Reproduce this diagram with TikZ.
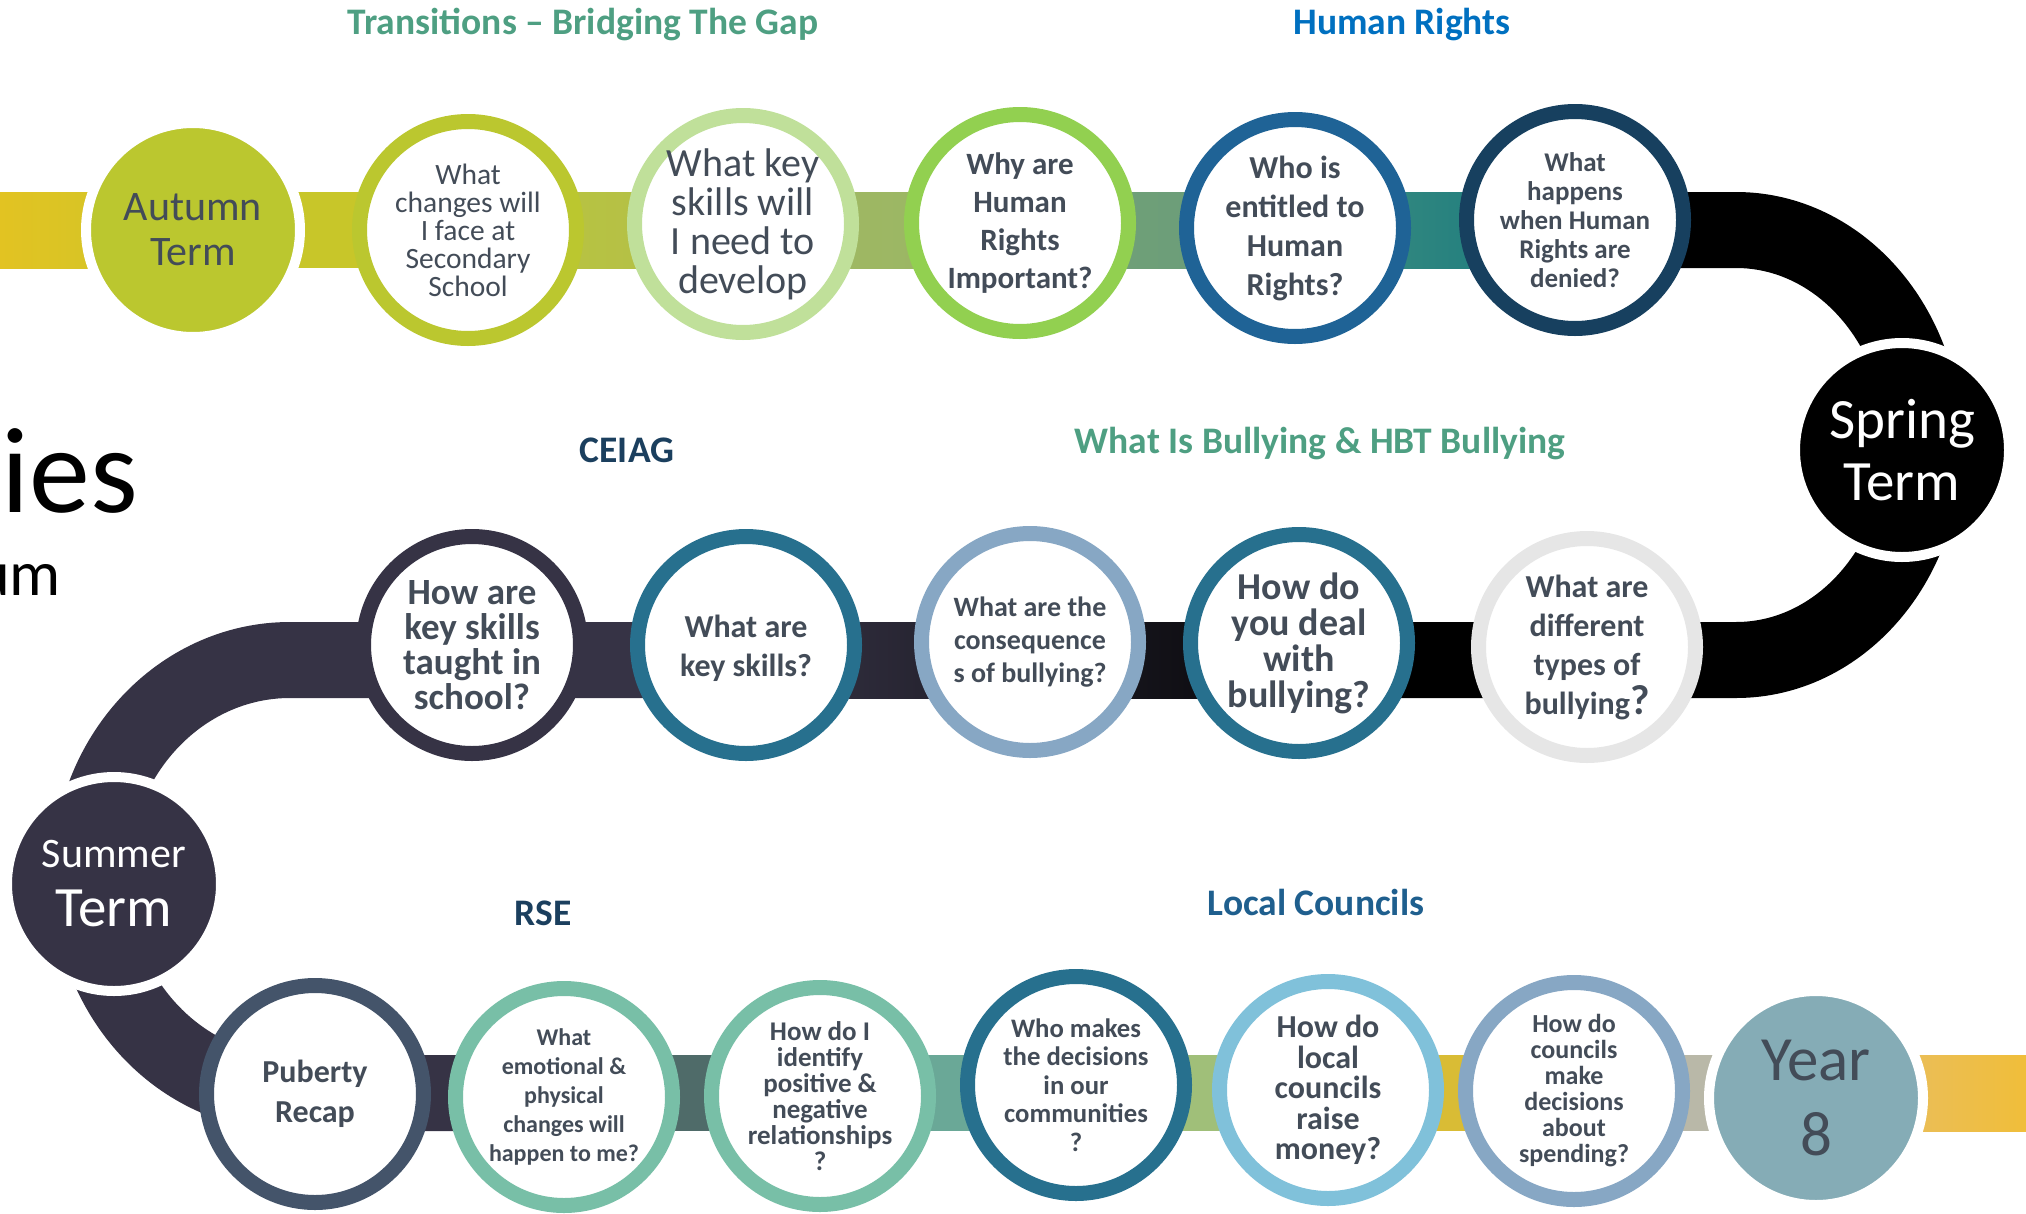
\documentclass[tikz,border=0pt]{standalone}
\usepackage{fontspec}
\setmainfont{Carlito}
\usetikzlibrary{backgrounds}
\definecolor{txt}{HTML}{434C58}
\definecolor{autumn}{HTML}{BBC72F}
\definecolor{ringB}{HTML}{C0E09A}
\definecolor{ringC}{HTML}{92D050}
\definecolor{ringD}{HTML}{1F6396}
\definecolor{ringE}{HTML}{17405F}
\definecolor{slate}{HTML}{363345}
\definecolor{petrol}{HTML}{27708E}
\definecolor{steel}{HTML}{87A7C4}
\definecolor{mist}{HTML}{E6E6E6}
\definecolor{puberty}{HTML}{44546A}
\definecolor{mint}{HTML}{78BFA7}
\definecolor{sky}{HTML}{80C1DA}
\definecolor{yearc}{HTML}{85ACB6}
\definecolor{hgreen}{HTML}{4E9F82}
\definecolor{hblue}{HTML}{0070C0}
\definecolor{hnavy}{HTML}{1B3F5E}
\definecolor{hcouncil}{HTML}{1F5F8E}
\definecolor{bandA}{HTML}{E2C322}
\definecolor{bandB}{HTML}{CCC62A}
\definecolor{bandC}{HTML}{C8C629}
\definecolor{bandD}{HTML}{BAC33D}
\definecolor{bandE}{HTML}{B2C04B}
\definecolor{bandF}{HTML}{A3BA5F}
\definecolor{bandG}{HTML}{97B468}
\definecolor{bandH}{HTML}{74A278}
\definecolor{bandI}{HTML}{679B79}
\definecolor{bandJ}{HTML}{3F8F7E}
\definecolor{bandK}{HTML}{167880}
\definecolor{lowA}{HTML}{4F6B69}
\definecolor{lowB}{HTML}{6AA897}
\definecolor{lowC}{HTML}{A0BF79}
\definecolor{lowD}{HTML}{D9BC35}
\definecolor{lowE}{HTML}{B9B8A8}
\definecolor{goldA}{HTML}{E6BF70}
\definecolor{goldB}{HTML}{F0BE3A}
\begin{document}
\begin{tikzpicture}[x=1pt,y=-1pt,
    ring/.style={circle,draw=#1,line width=15pt,fill=white,minimum size=217pt,inner sep=0pt},
    term/.style={circle,fill=#1,draw=white,line width=10pt,minimum size=214pt,inner sep=0pt,align=center},
    qtext/.style 2 args={align=center,text=txt,inner sep=0pt,font=\fontsize{#1}{#2}\selectfont},
    qbold/.style 2 args={align=center,text=txt,inner sep=0pt,font=\bfseries\fontsize{#1}{#2}\selectfont},
    head/.style={text=#1,inner sep=0pt,anchor=base,font=\bfseries\fontsize{37.5}{40}\selectfont}]
    \useasboundingbox (0,0) rectangle (2026,1213);
    \clip (0,0) rectangle (2026,1213);
    \coordinate (w) at (0,0);
    \coordinate (e) at (2026,0);
    \coordinate (r1) at (0,230);
    \coordinate (r1t) at (0,192);
    \coordinate (r1b) at (0,268);
    \coordinate (r2) at (0,660);
    \coordinate (r2t) at (0,622);
    \coordinate (r2b) at (0,698);
    \coordinate (r3) at (0,1093);
    \coordinate (r3t) at (0,1055);
    \coordinate (r3b) at (0,1131);
    \coordinate (rturn) at (1736,230);
    \coordinate (lturn) at (290,660);

    \node[anchor=base east,inner sep=0pt,font=\fontsize{122}{122}\selectfont] (ies) at (138,512) {ies};
    \node[anchor=base east,inner sep=0pt,font=\fontsize{64}{64}\selectfont] (um) at (61,595) {um};

    \node[head=hgreen] (h1) at (583,34) {Transitions – Bridging The Gap};
    \node[head=hblue] (h2) at (1402,34) {Human Rights};
    \node[head=hnavy] (h3) at (627,462) {CEIAG};
    \node[head=hgreen] (h4) at (1320,453) {What Is Bullying \& HBT Bullying};
    \node[head=hnavy] (h5) at (543,925) {RSE};
    \node[head=hcouncil] (h6) at (1316,915) {Local Councils};

    \node[term=autumn,text=txt,font=\fontsize{42}{45}\selectfont] (aut) at (193,230) {Autumn\\Term};
    \node[ring=autumn] (t1) at (468,230) {};
    \node[ring=ringB] (t2) at (743,224) {};
    \node[ring=ringC] (t3) at (1020,223) {};
    \node[ring=ringD] (t4) at (1295,228) {};
    \node[ring=ringE] (t5) at (1575,220) {};
    \node[term=black,text=white,font=\fontsize{57}{62}\selectfont] (spr) at (1902,450) {Spring\\Term};

    \node[ring=mist] (m5) at (1587,647) {};
    \node[ring=petrol] (m4) at (1299,643) {};
    \node[ring=steel] (m3) at (1030,642) {};
    \node[ring=petrol] (m2) at (746,645) {};
    \node[ring=slate] (m1) at (472,645) {};
    \node[term=slate,text=white,font=\fontsize{57}{59}\selectfont] (sum) at (114,884) {{\fontsize{42}{48}\selectfont Summer}\\Term};

    \node[ring=puberty] (b1) at (315,1094) {};
    \node[ring=mint] (b2) at (564,1097) {};
    \node[ring=mint] (b3) at (820,1096) {};
    \node[ring=petrol] (b4) at (1076,1085) {};
    \node[ring=sky] (b5) at (1328,1090) {};
    \node[ring=steel] (b6) at (1574,1091) {};
    \node[term=yearc,text=txt,font=\fontsize{63}{75}\selectfont] (yr) at (1816,1098) {Year\\8};

    \node[qtext={29.5}{28}] (t1q) at (t1) {What\\changes will\\I face at\\Secondary\\School};
    \node[qtext={40}{39}] (t2q) at (t2) {What key\\skills will\\I need to\\develop};
    \node[qbold={31}{38}] (t3q) at (t3) {Why are\\Human\\Rights\\Important?};
    \node[qbold={32}{39}] (t4q) at (t4) {Who is\\entitled to\\Human\\Rights?};
    \node[qbold={27}{29}] (t5q) at (t5) {What\\happens\\when Human\\Rights are\\denied?};

    \node[qbold={32}{39}] (m5q) at (m5) {What are\\different\\types of\\bullying{\fontsize{42}{42}\selectfont ?}};
    \node[qbold={38}{36}] (m4q) at (m4) {How do\\you deal\\with\\bullying?};
    \node[qbold={28}{33}] (m3q) at (m3) {What are the\\consequence\\s of bullying?};
    \node[qbold={32}{39}] (m2q) at ([yshift=-3pt]m2.center) {What are\\key skills?};
    \node[qbold={37}{35}] (m1q) at (m1) {How are\\key skills\\taught in\\school?};

    \node[qbold={32}{40}] (b1q) at (b1) {Puberty\\Recap};
    \node[qbold={24}{29}] (b2q) at (b2) {What\\emotional \&\\physical\\changes will\\happen to me?};
    \node[qbold={27}{26}] (b3q) at (b3) {How do I\\identify\\positive \&\\negative\\relationships\\?};
    \node[qbold={26.7}{28.5}] (b4q) at (b4) {Who makes\\the decisions\\in our\\communities\\?};
    \node[qbold={32}{30.5}] (b5q) at (b5) {How do\\local\\councils\\raise\\money?};
    \node[qbold={26}{26}] (b6q) at (b6) {How do\\councils\\make\\decisions\\about\\spending?};

    \begin{scope}[on background layer]
        \shade[left color=bandA,right color=bandB] (w |- r1t) rectangle (aut |- r1b);
        \fill[bandC] (aut |- r1t) rectangle (t1 |- r1b);
        \shade[left color=bandD,right color=bandE] (t1 |- r1t) rectangle (t2 |- r1b);
        \shade[left color=bandF,right color=bandG] (t2 |- r1t) rectangle (t3 |- r1b);
        \shade[left color=bandH,right color=bandI] (t3 |- r1t) rectangle (t4 |- r1b);
        \shade[left color=bandJ,right color=bandK] (t4 |- r1t) rectangle (t5 |- r1b);
        \draw[line width=76pt] (t5 |- r1) -- (rturn) arc[start angle=-90,end angle=90,x radius=188,y radius=215] -- (m4 |- r2);
        \shade[left color=slate,right color=black!88!slate] (m2 |- r2t) rectangle (m4 |- r2b);
        \draw[slate,line width=76pt] (m2 |- r2) -- (lturn) arc[start angle=270,end angle=90,x radius=200,y radius=216.5] -- (b2 |- r3);
        \fill[lowA] (b2 |- r3t) rectangle (b3 |- r3b);
        \fill[lowB] (b3 |- r3t) rectangle (b4 |- r3b);
        \fill[lowC] (b4 |- r3t) rectangle (b5 |- r3b);
        \fill[lowD] (b5 |- r3t) rectangle (b6 |- r3b);
        \fill[lowE] (b6 |- r3t) rectangle (yr |- r3b);
        \shade[left color=goldA,right color=goldB] (yr |- r3t) rectangle (e |- r3b);
    \end{scope}
\end{tikzpicture}
\end{document}
